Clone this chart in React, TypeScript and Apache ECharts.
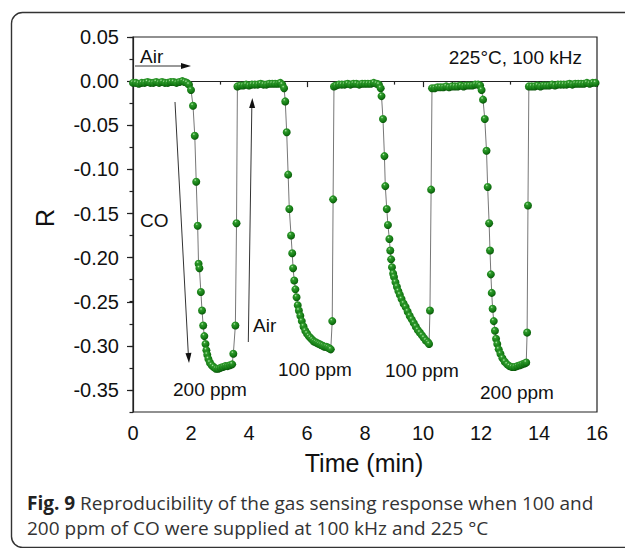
import React, { useEffect, useRef } from "react";
import * as echarts from "echarts";

// [time (min), R]
const baseline1 = [[0,-0.002],[0.1,-0.002],[0.2,-0.003],[0.3,-0.002],[0.4,-0.002],[0.5,-0.001],[0.6,-0.002],[0.7,-0.002],[0.8,-0.001],[0.9,-0.002],[1.0,-0.001],[1.1,-0.002],[1.2,-0.002],[1.3,-0.001],[1.4,-0.001],[1.5,-0.002],[1.6,-0.001],[1.7,0.0],[1.78,-0.001],[1.86,-0.002],[1.93,-0.004],[2.0,-0.010]];
const dip1 = [[2.07,-0.028],[2.13,-0.062],[2.18,-0.114],[2.23,-0.164],[2.26,-0.207],[2.29,-0.212],[2.34,-0.239],[2.38,-0.260],[2.42,-0.277],[2.46,-0.289],[2.50,-0.298],[2.53,-0.305],[2.56,-0.310],[2.60,-0.315],[2.65,-0.319],[2.71,-0.322],[2.78,-0.324],[2.86,-0.326],[2.94,-0.326],[3.02,-0.325],[3.10,-0.324],[3.18,-0.323],[3.26,-0.323],[3.34,-0.322],[3.42,-0.321],[3.46,-0.309],[3.53,-0.277],[3.57,-0.161]];
const baseline2 = [[3.60,-0.006],[3.7,-0.005],[3.8,-0.005],[3.9,-0.004],[4.0,-0.005],[4.1,-0.004],[4.2,-0.004],[4.3,-0.004],[4.4,-0.003],[4.5,-0.004],[4.6,-0.004],[4.7,-0.003],[4.8,-0.003],[4.9,-0.003],[5.0,-0.003],[5.08,-0.002],[5.15,-0.004],[5.21,-0.008]];
const dip2 = [[5.25,-0.023],[5.30,-0.058],[5.35,-0.106],[5.39,-0.145],[5.45,-0.175],[5.49,-0.195],[5.52,-0.212],[5.56,-0.226],[5.60,-0.236],[5.64,-0.245],[5.68,-0.254],[5.72,-0.260],[5.77,-0.266],[5.82,-0.272],[5.88,-0.278],[5.94,-0.283],[6.00,-0.286],[6.06,-0.289],[6.12,-0.291],[6.18,-0.293],[6.24,-0.295],[6.30,-0.296],[6.36,-0.297],[6.42,-0.298],[6.48,-0.299],[6.54,-0.300],[6.60,-0.301],[6.66,-0.301],[6.72,-0.302],[6.78,-0.303],[6.82,-0.304],[6.87,-0.272],[6.90,-0.134]];
const baseline3 = [[6.93,-0.006],[7.0,-0.005],[7.1,-0.004],[7.2,-0.004],[7.3,-0.004],[7.4,-0.003],[7.5,-0.004],[7.6,-0.003],[7.7,-0.003],[7.8,-0.004],[7.9,-0.003],[8.0,-0.003],[8.1,-0.003],[8.2,-0.003],[8.3,-0.002],[8.4,-0.003],[8.48,-0.004],[8.54,-0.008]];
const dip3 = [[8.57,-0.017],[8.62,-0.043],[8.67,-0.085],[8.70,-0.119],[8.75,-0.145],[8.79,-0.163],[8.84,-0.179],[8.87,-0.192],[8.90,-0.202],[8.93,-0.211],[8.97,-0.218],[9.00,-0.222],[9.05,-0.228],[9.10,-0.233],[9.15,-0.238],[9.20,-0.242],[9.26,-0.247],[9.33,-0.252],[9.40,-0.256],[9.47,-0.261],[9.54,-0.266],[9.61,-0.270],[9.68,-0.274],[9.75,-0.278],[9.82,-0.282],[9.89,-0.285],[9.96,-0.288],[10.03,-0.291],[10.10,-0.294],[10.17,-0.296],[10.21,-0.298],[10.24,-0.260],[10.28,-0.123]];
const baseline4 = [[10.31,-0.008],[10.4,-0.008],[10.5,-0.007],[10.6,-0.007],[10.7,-0.007],[10.8,-0.006],[10.9,-0.007],[11.0,-0.006],[11.1,-0.006],[11.2,-0.006],[11.3,-0.005],[11.4,-0.006],[11.5,-0.005],[11.6,-0.005],[11.7,-0.005],[11.8,-0.004],[11.9,-0.004],[11.97,-0.005],[12.02,-0.010]];
const dip4 = [[12.07,-0.021],[12.13,-0.043],[12.19,-0.079],[12.23,-0.120],[12.28,-0.161],[12.31,-0.192],[12.34,-0.219],[12.37,-0.240],[12.40,-0.258],[12.44,-0.272],[12.48,-0.283],[12.52,-0.292],[12.56,-0.298],[12.61,-0.304],[12.67,-0.309],[12.74,-0.314],[12.82,-0.318],[12.90,-0.321],[12.98,-0.323],[13.07,-0.324],[13.16,-0.324],[13.25,-0.323],[13.34,-0.322],[13.42,-0.321],[13.50,-0.320],[13.56,-0.319],[13.59,-0.285],[13.62,-0.141]];
const baseline5 = [[13.65,-0.006],[13.75,-0.006],[13.85,-0.006],[13.95,-0.005],[14.05,-0.006],[14.15,-0.005],[14.25,-0.005],[14.35,-0.005],[14.45,-0.004],[14.55,-0.005],[14.65,-0.004],[14.75,-0.004],[14.85,-0.004],[14.95,-0.004],[15.05,-0.003],[15.15,-0.004],[15.25,-0.003],[15.35,-0.003],[15.45,-0.003],[15.55,-0.003],[15.65,-0.002],[15.75,-0.003],[15.85,-0.002],[15.95,-0.002]];

const xTicks = { min: 0, max: 16, interval: 2 };
const yLabelRange = { min: -0.35, max: 0.05, interval: 0.05 };
const yFullRange = { min: -0.375, max: 0.05, interval: 0.025 };

const annotations = [
  { text: "Air", x: 140, y: 56, align: "left" },
  { text: "CO", x: 140, y: 220, align: "left" },
  { text: "Air", x: 253, y: 325, align: "left" },
  { text: "200 ppm", x: 173, y: 389, align: "left" },
  { text: "100 ppm", x: 278, y: 369, align: "left" },
  { text: "100 ppm", x: 385, y: 370, align: "left" },
  { text: "200 ppm", x: 480, y: 392, align: "left" },
  { text: "225°C, 100 kHz", x: 582, y: 57, align: "right" },
];

const captionLine1 = "Reproducibility of the gas sensing response when 100 and";
const captionLine2 = "200 ppm of CO were supplied at 100 kHz and 225 °C";

export default function App() {
  const ref = useRef<HTMLDivElement>(null);
  useEffect(() => {
    if (!ref.current) return;
    const chart = echarts.init(ref.current, null, { renderer: "svg" });
    const data = [...baseline1, ...dip1, ...baseline2, ...dip2, ...baseline3, ...dip3, ...baseline4, ...dip4, ...baseline5];
    const font = "Liberation Sans, Arial, sans-serif";
    const capFont = "Open Sans, Noto Sans, sans-serif";
    const axisColor = "#222";
    const sphere = {
      type: "radial", x: 0.38, y: 0.3, r: 0.72,
      colorStops: [
        { offset: 0, color: "#b6ecae" },
        { offset: 0.22, color: "#2f9a2c" },
        { offset: 0.7, color: "#137a13" },
        { offset: 1, color: "#085208" },
      ],
    };
    const arrowLine = (x1, y1, x2, y2) => ({
      type: "line", shape: { x1, y1, x2, y2 }, style: { stroke: "#333", lineWidth: 1 }, z: 10,
    });
    const arrowHead = (tx, ty, fx, fy) => {
      const dx = tx - fx, dy = ty - fy;
      const L = Math.sqrt(dx * dx + dy * dy);
      const ux = dx / L, uy = dy / L;
      const bx = tx - ux * 10, by = ty - uy * 10;
      return {
        type: "polygon",
        shape: { points: [[tx, ty], [bx - uy * 3, by + ux * 3], [bx + uy * 3, by - ux * 3]] },
        style: { fill: "#111" }, z: 10,
      };
    };
    const option = {
      animation: false,
      backgroundColor: "#fff",
      grid: [
        { left: 133, top: 37, width: 464, height: 375, show: true, borderColor: axisColor, borderWidth: 1.2, backgroundColor: "transparent" },
        { left: 133, top: 37, width: 464, height: 353, show: false },
      ],
      xAxis: [
        {
          type: "value", gridIndex: 0, min: xTicks.min, max: xTicks.max, interval: xTicks.interval,
          axisLine: { show: true, lineStyle: { color: axisColor, width: 1.2 } },
          axisTick: { show: true, inside: false, length: 6, lineStyle: { color: axisColor, width: 1.2 } },
          minorTick: { show: true, splitNumber: 2, length: 3.5, lineStyle: { color: axisColor, width: 1.2 } },
          splitLine: { show: false },
          axisLabel: { fontSize: 20, color: "#111", fontFamily: font, margin: 11 },
        },
        { type: "value", gridIndex: 1, min: 0, max: 16, show: false },
      ],
      yAxis: [
        {
          type: "value", gridIndex: 0, min: yFullRange.min, max: yFullRange.max, interval: yFullRange.interval,
          axisLine: { show: true, lineStyle: { color: axisColor, width: 1.2 } },
          axisTick: { show: true, inside: false, length: 3.5, lineStyle: { color: axisColor, width: 1.2 } },
          splitLine: { show: false },
          axisLabel: { show: false },
        },
        {
          type: "value", gridIndex: 1, min: yLabelRange.min, max: yLabelRange.max, interval: yLabelRange.interval,
          axisLine: { show: false },
          axisTick: { show: true, inside: false, length: 6, lineStyle: { color: axisColor, width: 1.2 } },
          splitLine: { show: false },
          axisLabel: { fontSize: 20, color: "#111", fontFamily: font, margin: 14, formatter: (v) => v.toFixed(2) },
        },
      ],
      series: [
        {
          type: "line", xAxisIndex: 0, yAxisIndex: 0, data,
          lineStyle: { color: "#777", width: 1 },
          symbol: "circle", symbolSize: 8, showSymbol: true,
          itemStyle: { color: sphere, borderWidth: 0 },
          z: 3,
        },
      ],
      graphic: [
        { type: "rect", shape: { x: 11.5, y: 12.5, width: 700, height: 535, r: 11 }, style: { fill: "none", stroke: "#333", lineWidth: 1.4 }, z: 0 },
        arrowLine(135, 66, 182, 66), arrowHead(191, 66, 135, 66),
        arrowLine(175, 102, 188.3, 354), arrowHead(189, 363, 175, 102),
        arrowLine(248.3, 342, 251.8, 108), arrowHead(252.3, 98, 248.3, 342),
        ...annotations.map((a) => ({
          type: "text", x: a.x, y: a.y, z: 10,
          style: { text: a.text, fontSize: 19, fontFamily: font, fill: "#111", align: a.align, verticalAlign: "middle" },
        })),
        { type: "text", x: 364, y: 463, z: 10, style: { text: "Time (min)", fontSize: 25, fontFamily: font, fill: "#111", align: "center", verticalAlign: "middle" } },
        { type: "text", x: 45, y: 218, rotation: Math.PI / 2, z: 10, style: { text: "R", fontSize: 25, fontFamily: font, fill: "#111", align: "center", verticalAlign: "middle" } },
        {
          type: "text", x: 27, y: 503, z: 10,
          style: {
            text: "{b|Fig. 9} " + captionLine1,
            fontSize: 19, fontFamily: capFont, fill: "#333", verticalAlign: "middle",
            rich: { b: { fontWeight: "bold", fontSize: 19, fontFamily: capFont, fill: "#222" } },
          },
        },
        { type: "text", x: 27, y: 528, z: 10, style: { text: captionLine2, fontSize: 19, fontFamily: capFont, fill: "#333", verticalAlign: "middle" } },
      ],
    };
    chart.setOption(option as any);
    return () => chart.dispose();
  }, []);
  return <div ref={ref} style={{ position: "absolute", left: 0, top: 0, width: 625, height: 548 }} />;
}
